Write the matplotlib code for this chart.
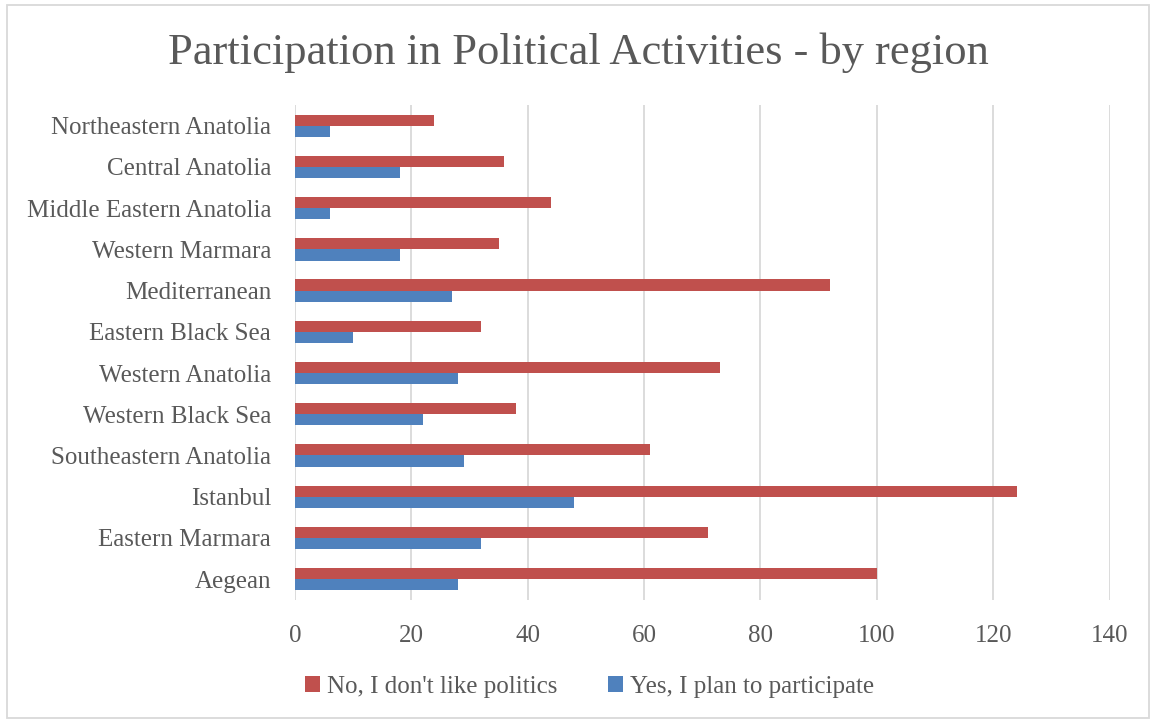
import matplotlib
matplotlib.use("Agg")
import matplotlib.pyplot as plt
from matplotlib.patches import Rectangle
import numpy as np

# regions listed bottom to top
regions = ["Aegean", "Eastern Marmara", "Istanbul", "Southeastern Anatolia",
           "Western Black Sea", "Western Anatolia", "Eastern Black Sea",
           "Mediterranean", "Western Marmara", "Middle Eastern Anatolia",
           "Central Anatolia", "Northeastern Anatolia"]
no_politics = [100, 71, 124, 61, 38, 73, 32, 92, 35, 44, 36, 24]
yes_participate = [28, 32, 48, 29, 22, 28, 10, 27, 18, 6, 18, 6]
xticks = [0, 20, 40, 60, 80, 100, 120, 140]

red = "#C0504D"
blue = "#4F81BD"
txt = "#595959"

plt.rcParams['font.family'] = ['Liberation Serif', 'DejaVu Serif']

fig = plt.figure(figsize=(11.56, 7.2), dpi=100)
ax = fig.add_axes([0.255, 0.167, 0.705, 0.687])

y = np.arange(len(regions))
h = 0.27
ax.barh(y + h / 2, no_politics, height=h, color=red, label="No, I don't like politics", zorder=3)
ax.barh(y - h / 2, yes_participate, height=h, color=blue, label="Yes, I plan to participate", zorder=3)

ax.set_xlim(0, 140)
ax.set_ylim(-0.5, len(regions) - 0.5)
ax.set_xticks(xticks)
ax.set_yticks(y)
ax.set_yticklabels(regions)
ax.grid(axis='x', color="#D9D9D9", linewidth=1.3, zorder=0)
for s in ax.spines.values():
    s.set_visible(False)
ax.tick_params(length=0, colors=txt, labelsize=18)
ax.tick_params(axis='x', pad=18)
ax.tick_params(axis='y', pad=17)

fig.suptitle("Participation in Political Activities - by region", y=0.955,
             fontsize=32, color=txt)

leg = fig.legend(loc='lower center', bbox_to_anchor=(0.51, 0.0), ncol=2,
                 frameon=False, fontsize=18, handlelength=0.6, handleheight=0.6,
                 columnspacing=2.0, handletextpad=0.3)
for t in leg.get_texts():
    t.set_color(txt)

fig.patches.append(Rectangle((0.006, 0.003), 0.988, 0.99, transform=fig.transFigure,
                             fill=False, edgecolor="#D9D9D9", linewidth=1.3))

fig.savefig("out.png", dpi=100)
